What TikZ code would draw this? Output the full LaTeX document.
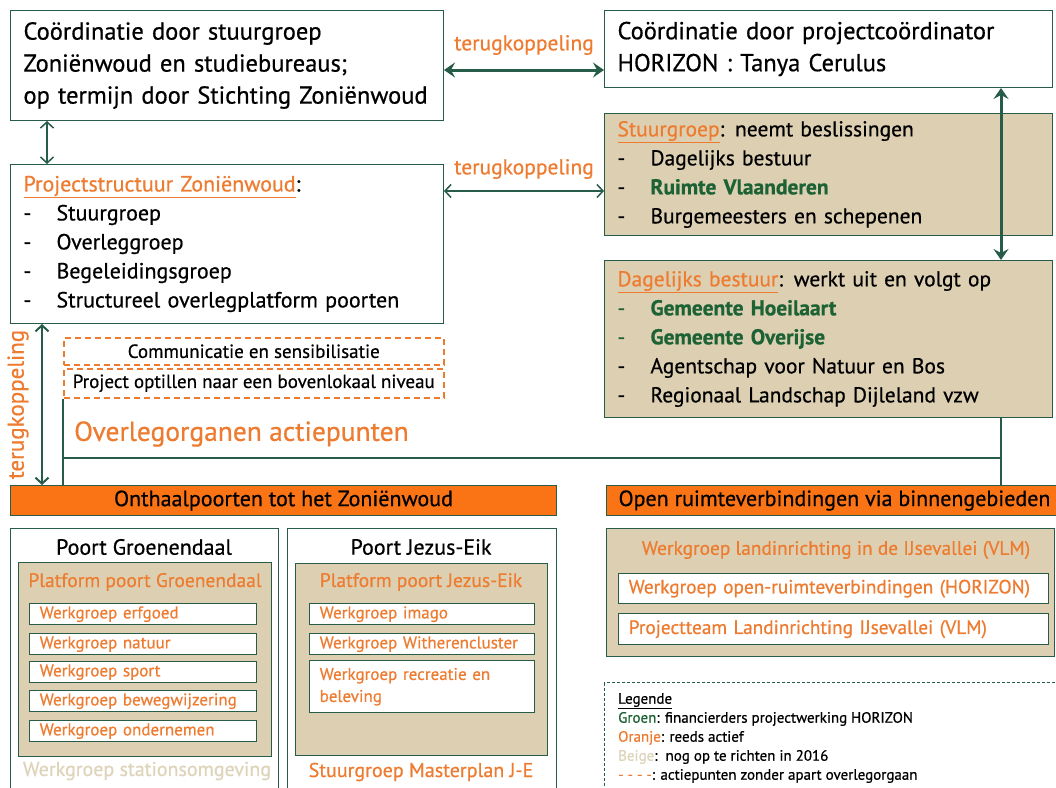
\documentclass[tikz,border=0pt]{standalone}
\usepackage{fontspec}
\setmainfont{PT Sans}[FakeBold=0.6]
\usetikzlibrary{arrows.meta}

\definecolor{kader}{RGB}{38,92,72}
\definecolor{oranje}{RGB}{238,124,48}
\definecolor{balkoranje}{RGB}{250,116,22}
\definecolor{beige}{RGB}{221,208,178}
\definecolor{lichtbeige}{RGB}{222,212,186}
\definecolor{groen}{RGB}{28,98,52}

\tikzset{
  blok/.style={draw=kader, line width=1pt, fill=white, anchor=north west, inner xsep=13pt, inner ysep=0pt, align=left},
  groot/.style={font=\fontsize{24.5}{32}\selectfont},
  middel/.style={font=\fontsize{21.5}{29}\selectfont},
  terug/.style={text=oranje, font=\fontsize{21.5}{24}\selectfont, inner sep=0pt},
  dikpijl/.style={kader, line width=3pt, {Stealth[length=11pt,width=15pt,inset=4pt]}-{Stealth[length=11pt,width=15pt,inset=4pt]}},
  dunpijl/.style={kader, line width=1.5pt, {Straight Barb[length=6pt,width=13pt]}-{Straight Barb[length=6pt,width=13pt]}},
  verbinding/.style={kader, line width=2.6pt},
  streepblok/.style={draw=oranje, dash pattern=on 6pt off 4pt, line width=1.5pt, anchor=north west, inner sep=0pt, font=\fontsize{19}{20}\selectfont},
  balk/.style={draw=kader, line width=1pt, fill=balkoranje, anchor=north west, inner sep=0pt, minimum height=30pt, font=\fontsize{22}{24}\selectfont},
  poort/.style={draw=kader, line width=1pt, fill=white, anchor=north west, inner sep=0pt},
  platform/.style={draw=kader, line width=1.4pt, fill=beige, anchor=north west, inner sep=0pt},
  titel/.style={font=\fontsize{22}{24}\selectfont, inner sep=0pt},
  platformtekst/.style={text=oranje, font=\fontsize{19.5}{22}\selectfont, inner sep=0pt},
  werkgroep/.style={draw=kader, line width=1.4pt, fill=white, anchor=north west, inner xsep=10pt, inner ysep=0pt, minimum height=21pt, align=left, text=oranje, font=\fontsize{17}{22}\selectfont}
}

\newcommand{\streep}{\makebox[33pt][l]{-}}

\begin{document}
\begin{tikzpicture}[x=1pt, y=-1pt]
\useasboundingbox (0,0) rectangle (1056,787);
\clip (0,0) rectangle (1056,787);
\fill[white] (0,0) rectangle (1056,787);

% hulpcoordinaten
\coordinate (pijl1) at (0,70);
\coordinate (pijl2) at (0,191);
\coordinate (lijn) at (0,458);
\coordinate (asrechts) at (1001,0);
\coordinate (aslinks) at (42,0);
\coordinate (asboven) at (47,0);

% coordinatie
\node[blok, groot, text width=407pt, minimum height=110pt] (stuurgroepzw) at (10,10)
  {Coördinatie door stuurgroep\\Zoniënwoud en studiebureaus;\\op termijn door Stichting Zoniënwoud};
\node[blok, groot, text width=422pt, minimum height=77pt] (horizon) at (604,10)
  {Coördinatie door projectcoördinator\\HORIZON : Tanya Cerulus};

% projectstructuur
\node[blok, middel, font=\fontsize{22}{29}\selectfont, text width=407pt, minimum height=159pt] (structuur) at (10,164)
  {\textcolor{oranje}{\underline{Projectstructuur Zoniënwoud}}:\\
   \streep Stuurgroep\\\streep Overleggroep\\\streep Begeleidingsgroep\\
   \streep Structureel overlegplatform poorten};
\node[blok, middel, fill=beige, text width=422pt, minimum height=122pt] (stuurgroep) at (604,113)
  {\textcolor{oranje}{\underline{Stuurgroep}}: neemt beslissingen\\
   \streep Dagelijks bestuur\\
   \streep\textcolor{groen}{\bfseries Ruimte Vlaanderen}\\
   \streep Burgemeesters en schepenen};
\node[blok, middel, fill=beige, text width=422pt, minimum height=157pt] (bestuur) at (604,260)
  {\textcolor{oranje}{\underline{Dagelijks bestuur}}: werkt uit en volgt op\\
   \textcolor{groen}{\streep\bfseries Gemeente Hoeilaart}\\
   \textcolor{groen}{\streep\bfseries Gemeente Overijse}\\
   \streep Agentschap voor Natuur en Bos\\
   \streep Regionaal Landschap Dijleland vzw};

% terugkoppelingen
\draw[dikpijl] (stuurgroepzw.east |- pijl1) -- (horizon.west |- pijl1)
  node[terug, midway, yshift=25pt] (terug1) {terugkoppeling};
\draw[dunpijl] (structuur.east |- pijl2) -- (stuurgroep.west |- pijl2)
  node[terug, midway, yshift=22pt] (terug2) {terugkoppeling};
\draw[dunpijl] (asboven |- stuurgroepzw.south) -- (asboven |- structuur.north);
\draw[dikpijl] (asrechts |- horizon.south) -- (asrechts |- bestuur.north);

% actiepunten zonder overlegorgaan
\node[streepblok, minimum width=380pt, minimum height=27pt] (communicatie) at (63,337)
  {Communicatie en sensibilisatie};
\node[streepblok, minimum width=380pt, minimum height=29pt] (optillen) at (63,368)
  {Project optillen naar een bovenlokaal niveau};
\node[anchor=west, text=oranje, font=\fontsize{27.5}{32}\selectfont, inner sep=0pt] (overleg) at (74,434)
  {Overlegorganen actiepunten};

% balken
\node[balk, minimum width=546pt] (onthaal) at (10,485) {Onthaalpoorten tot het Zoniënwoud};
\node[balk, minimum width=456pt] (openruimte) at (606,485) {Open ruimteverbindingen via binnengebieden};

\draw[verbinding] (optillen.south west) -- (optillen.south west |- onthaal.north);
\draw[verbinding] (optillen.south west |- lijn) -- (asrechts |- lijn);
\draw[verbinding] (asrechts |- bestuur.south) -- (asrechts |- openruimte.north);
\draw[kader, line width=2pt, {Straight Barb[length=6pt,width=13pt]}-{Straight Barb[length=6pt,width=13pt]}]
  (aslinks |- structuur.south) -- (aslinks |- onthaal.north)
  node[terug, font=\fontsize{23}{24}\selectfont, midway, xshift=-24pt, rotate=90] (terug3) {terugkoppeling};

% poort Groenendaal
\node[poort, minimum width=268pt, minimum height=290pt] (groenendaal) at (10,528) {};
\node[titel] (titelgroen) at (144,547) {Poort Groenendaal};
\node[platform, minimum width=253pt, minimum height=194pt] (platformgroen) at (18,562) {};
\node[platformtekst] (ptgroen) at (145,582) {Platform poort Groenendaal};
\foreach \y/\naam/\tekst in {603/erfgoed/Werkgroep erfgoed, 633/natuur/Werkgroep natuur,
    661/sport/Werkgroep sport, 690/bewegwijzering/Werkgroep bewegwijzering,
    720/ondernemen/Werkgroep ondernemen}
  \node[werkgroep, text width=207pt] (\naam) at (29,\y) {\tekst};
\node[text=lichtbeige, font=\fontsize{20}{22}\selectfont, inner sep=0pt] (station) at (147,771)
  {Werkgroep stationsomgeving};

% poort Jezus-Eik
\node[poort, minimum width=269pt, minimum height=290pt] (jezuseik) at (287,528) {};
\node[titel] (titeljezus) at (421,547) {Poort Jezus-Eik};
\node[platform, minimum width=252pt, minimum height=192pt] (platformjezus) at (295,563) {};
\node[platformtekst] (ptjezus) at (421,582) {Platform poort Jezus-Eik};
\foreach \y/\naam/\tekst in {603/imago/Werkgroep imago, 633/witheren/Werkgroep Witherencluster}
  \node[werkgroep, text width=205pt] (\naam) at (309,\y) {\tekst};
\node[werkgroep, text width=205pt, minimum height=52pt] (recreatie) at (309,660)
  {Werkgroep recreatie en\\beleving\\[8pt]};
\node[platformtekst, font=\fontsize{20}{22}\selectfont] (masterplan) at (421,772) {Stuurgroep Masterplan J-E};

% open ruimte
\node[platform, minimum width=448pt, minimum height=128pt] (vlm) at (606,528) {};
\node[platformtekst, font=\fontsize{19.4}{22}\selectfont] (vlmtitel) at (836,550)
  {Werkgroep landinrichting in de IJsevallei (VLM)};
\node[werkgroep, font=\fontsize{19.3}{22}\selectfont, text width=410pt, minimum height=30pt] (wgopen) at (618,573)
  {Werkgroep open-ruimteverbindingen (HORIZON)};
\node[werkgroep, font=\fontsize{19.3}{22}\selectfont, text width=410pt, minimum height=31pt] (projectteam) at (618,613)
  {Projectteam Landinrichting IJsevallei (VLM)};

% legende
\node[draw=kader, dash pattern=on 3pt off 2pt, line width=1pt, anchor=north west, inner sep=0pt,
  minimum width=480pt, minimum height=130pt] (legendekader) at (604,682) {};
\node[anchor=north west, align=left, inner sep=0pt, font=\fontsize{15}{19}\selectfont] (legende) at (618,693)
  {\underline{Legende}\\
   \textcolor{groen}{Groen}: financierders projectwerking HORIZON\\
   \textcolor{oranje}{Oranje}: reeds actief\\
   \textcolor{lichtbeige}{Beige}:\ \ nog op te richten in 2016\\
   \textcolor{oranje}{- - - -}: actiepunten zonder apart overlegorgaan};
\end{tikzpicture}
\end{document}
